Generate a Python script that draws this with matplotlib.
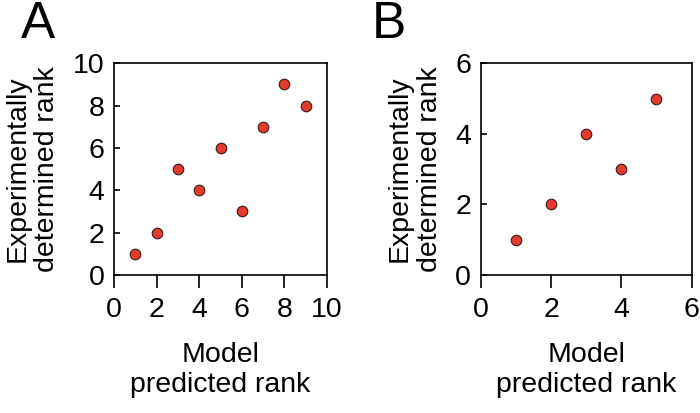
import matplotlib
matplotlib.use('Agg')
import matplotlib.pyplot as plt

# --- data ---
model_rank_a = [1, 2, 3, 4, 5, 6, 7, 8, 9]
exp_rank_a = [1, 2, 5, 4, 6, 3, 7, 9, 8]
model_rank_b = [1, 2, 3, 4, 5]
exp_rank_b = [1, 2, 4, 3, 5]

plt.rcParams['font.family'] = ['Liberation Sans', 'DejaVu Sans']

fig = plt.figure(figsize=(7, 4.13), dpi=100)
ax_a = fig.add_axes([0.163, 0.334, 0.304, 0.513])
ax_b = fig.add_axes([0.687, 0.334, 0.301, 0.513])


def style_panel(ax, xs, ys, lim, ticks):
    ax.scatter(xs, ys, s=58, color='#e23a2e', edgecolor='#3a1a18',
               linewidth=0.8, zorder=3, clip_on=False)
    ax.set_xlim(0, lim)
    ax.set_ylim(0, lim)
    ax.set_xticks(ticks)
    ax.set_yticks(ticks)
    ax.tick_params(axis='x', direction='out', length=9.5, width=1.2,
                   labelsize=20.5, pad=6)
    ax.tick_params(axis='y', direction='in', length=4.5, width=1.2,
                   labelsize=20.5, pad=7)
    for sp in ax.spines.values():
        sp.set_linewidth(1.2)
    ax.set_xlabel('Model\npredicted rank', fontsize=20.5, labelpad=14)
    ax.set_ylabel('Experimentally\ndetermined rank', fontsize=20.5, labelpad=9)


style_panel(ax_a, model_rank_a, exp_rank_a, 10, [0, 2, 4, 6, 8, 10])
style_panel(ax_b, model_rank_b, exp_rank_b, 6, [0, 2, 4, 6])

fig.text(0.054, 1.0, 'A', fontsize=37, ha='center', va='top')
fig.text(0.555, 1.0, 'B', fontsize=37, ha='center', va='top')

fig.savefig('out.png', dpi=100)
